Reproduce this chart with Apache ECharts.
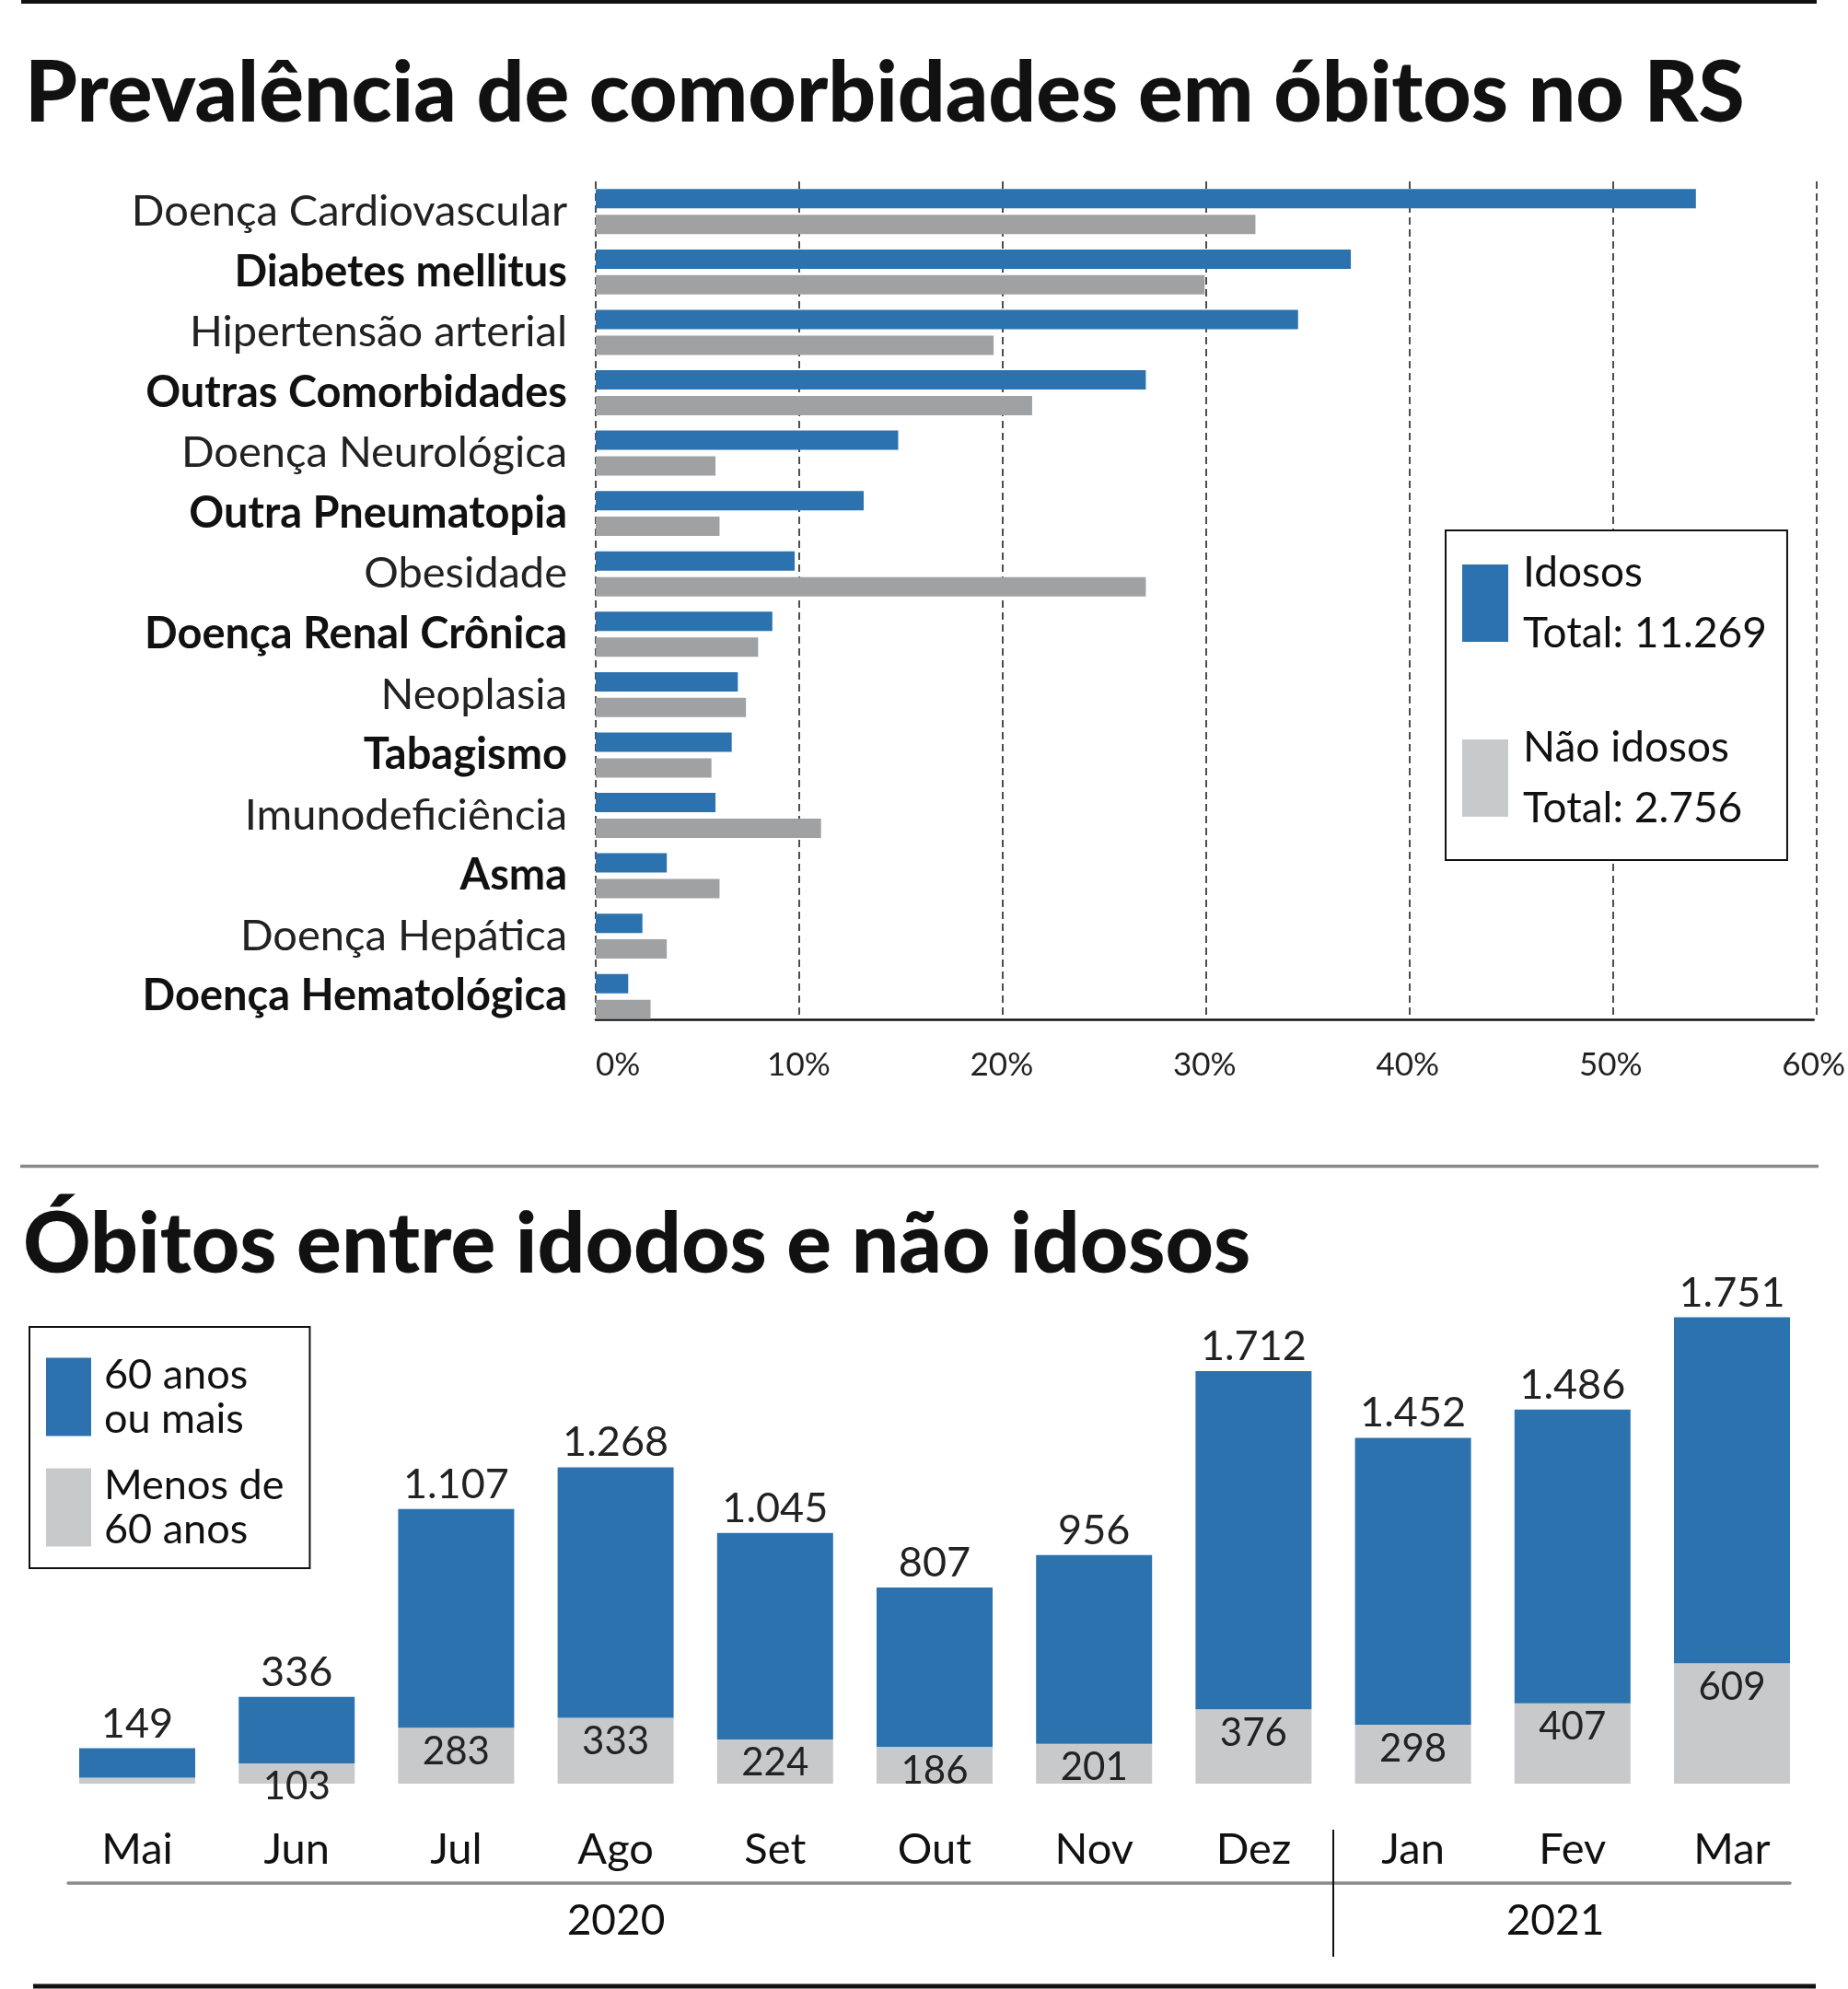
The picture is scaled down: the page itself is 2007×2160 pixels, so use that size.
<!DOCTYPE html>
<html>
<head>
<meta charset="utf-8">
<script src="https://cdn.jsdelivr.net/npm/echarts@6/dist/echarts.min.js"></script>
<style>
html,body{margin:0;padding:0;background:#fff;}
#c{width:2007px;height:2160px;}
</style>
</head>
<body>
<div id="c"></div>
<script>
// ---- Data: chart 1 ----
const comorbidades = ['Doença Cardiovascular','Diabetes mellitus','Hipertensão arterial','Outras Comorbidades','Doença Neurológica','Outra Pneumatopia','Obesidade','Doença Renal Crônica','Neoplasia','Tabagismo','Imunodeficiência','Asma','Doença Hepática','Doença Hematológica'];
const idosos =    [54.2, 37.2, 34.6, 27.1, 14.9, 13.2, 9.8, 8.7, 7.0, 6.7, 5.9, 3.5, 2.3, 1.6];
const naoIdosos = [32.5, 30.0, 19.6, 21.5, 5.9, 6.1, 27.1, 8.0, 7.4, 5.7, 11.1, 6.1, 3.5, 2.7];
const pctTicks = [0, 10, 20, 30, 40, 50, 60];
const legend1Names = ['Idosos', 'Não idosos'];
const legend1Totals = ['11.269', '2.756'];

// ---- Data: chart 2 ----
const meses = ['Mai','Jun','Jul','Ago','Set','Out','Nov','Dez','Jan','Fev','Mar'];
const anos = ['', '', '', '2020', '', '', '', '', '', '2021', ''];
const divisorAno = [8]; // boundary between Dez (2020) and Jan (2021), in month-index units
const sessentaMais = [149, 336, 1107, 1268, 1045, 807, 956, 1712, 1452, 1486, 1751];
const menos60 = [30, 103, 283, 333, 224, 186, 201, 376, 298, 407, 609];
const legend2Names = ['60 anos ou mais', 'Menos de 60 anos'];
const legend2Lines = ['60 anos\nou mais', 'Menos de\n60 anos'];

const BLUE = '#2b72ae';
const GRAY_DARK = '#a0a1a3';
const GRAY_LIGHT = '#c8c9cb';
const FONT = 'Lato';

function fmtThousands(v){
  return String(v).replace(/\B(?=(\d{3})+(?!\d))/g, '.');
}

const chart = echarts.init(document.getElementById('c'), null, {renderer:'canvas'});

const option = {
  backgroundColor: '#ffffff',
  animation: false,
  textStyle: {fontFamily: FONT},
  title: [
    {text: 'Prevalência de comorbidades em óbitos no RS', left: 22, top: 52,
     textStyle: {fontFamily: FONT, fontWeight: 900, fontSize: 91, color: '#111'}},
    {text: 'Óbitos entre idodos e não idosos', left: 20, top: 1302,
     textStyle: {fontFamily: FONT, fontWeight: 900, fontSize: 91, color: '#111'}}
  ],
  graphic: [
    {type: 'line', shape: {x1: 23, y1: 2, x2: 1973, y2: 2}, style: {stroke: '#111', lineWidth: 4}},
    {type: 'line', shape: {x1: 22, y1: 1266.5, x2: 1975, y2: 1266.5}, style: {stroke: '#888', lineWidth: 3.5}},
    {type: 'line', shape: {x1: 36, y1: 2157, x2: 1972, y2: 2157}, style: {stroke: '#111', lineWidth: 5}}
  ],
  legend: [
    {
      data: [{name: legend1Names[0]}, {name: legend1Names[1], itemStyle: {color: GRAY_LIGHT}}],
      orient: 'vertical', left: 1570, top: 576,
      itemWidth: 50, itemHeight: 84, itemGap: 58,
      padding: [13, 22, 23, 18],
      backgroundColor: '#ffffff',
      borderColor: '#111', borderWidth: 2,
      selectedMode: false, icon: 'rect',
      formatter: function(name){
        const i = legend1Names.indexOf(name);
        return name + '\nTotal: ' + legend1Totals[i];
      },
      textStyle: {fontFamily: FONT, fontSize: 46, lineHeight: 66, color: '#111', padding: [0, 0, 0, 11]}
    },
    {
      data: [{name: legend2Names[0]}, {name: legend2Names[1]}],
      orient: 'vertical', left: 32, top: 1441,
      itemWidth: 49, itemHeight: 85, itemGap: 24,
      padding: [28, 28, 18, 18],
      backgroundColor: '#ffffff',
      borderColor: '#111', borderWidth: 2,
      selectedMode: false, icon: 'rect',
      formatter: function(name){
        return legend2Lines[legend2Names.indexOf(name)];
      },
      textStyle: {fontFamily: FONT, fontSize: 45, lineHeight: 48, color: '#111', padding: [0, 0, 0, 9]}
    }
  ],
  grid: [
    {left: 647, top: 197, width: 1326, height: 918},
    {left: 647, top: 197, width: 1326, height: 910},
    {left: 62.4, top: 1422, width: 1905.2, height: 515},
    {left: 74, top: 1422, width: 1870, height: 515}
  ],
  xAxis: [
    {
      type: 'value', gridIndex: 0, position: 'bottom', min: pctTicks[0], max: pctTicks[pctTicks.length-1], interval: 10,
      offset: -8,
      axisLine: {show: true, onZero: false, lineStyle: {color: '#111', width: 2.5}},
      axisTick: {show: false},
      splitLine: {show: false},
      axisLabel: {formatter: '{value}%', fontFamily: FONT, fontSize: 35, color: '#222', margin: 32, alignMinLabel: 'left'}
    },
    {
      type: 'value', gridIndex: 1, position: 'bottom', min: pctTicks[0], max: pctTicks[pctTicks.length-1], interval: 10,
      axisLine: {show: false}, axisTick: {show: false}, axisLabel: {show: false},
      splitLine: {show: true, lineStyle: {color: '#222', width: 1.6, type: [8, 5]}}
    },
    {
      type: 'category', gridIndex: 2, position: 'bottom', data: meses,
      axisLine: {show: false}, axisTick: {show: false},
      axisLabel: {fontFamily: FONT, fontSize: 47, color: '#111', margin: 48, interval: 0}
    },
    {
      type: 'value', gridIndex: 2, position: 'bottom', min: 0, max: meses.length, offset: 50,
      axisLine: {show: false, onZero: false},
      axisTick: {show: true, length: 138, customValues: divisorAno, lineStyle: {color: '#111', width: 2}},
      axisLabel: {show: false},
      splitLine: {show: false}
    },
    {
      type: 'category', gridIndex: 3, position: 'bottom', data: anos, offset: 108,
      axisLine: {show: true, onZero: false, lineStyle: {color: '#8a8a8a', width: 3.5}},
      axisTick: {show: false},
      axisLabel: {fontFamily: FONT, fontSize: 46, color: '#111', margin: 18, interval: 0}
    }
  ],
  yAxis: [
    {
      type: 'category', gridIndex: 0, data: comorbidades, inverse: true,
      axisLine: {show: false}, axisTick: {show: false}, splitLine: {show: false},
      axisLabel: {
        margin: 31, interval: 0,
        formatter: function(v, i){ return (i % 2 === 1 ? '{b|' : '{r|') + v + '}'; },
        rich: {
          r: {fontFamily: FONT, fontSize: 47, color: '#222', fontWeight: 400},
          b: {fontFamily: FONT, fontSize: 47, color: '#111', fontWeight: 700}
        }
      }
    },
    {type: 'category', gridIndex: 1, data: comorbidades, inverse: true, show: false},
    {type: 'value', gridIndex: 2, min: 0, max: 2400, show: false},
    {type: 'value', gridIndex: 3, min: 0, max: 2400, show: false}
  ],
  series: [
    {
      name: legend1Names[0], type: 'bar', xAxisIndex: 0, yAxisIndex: 0,
      data: idosos, barWidth: 21, barGap: '33%',
      itemStyle: {color: BLUE}
    },
    {
      name: legend1Names[1], type: 'bar', xAxisIndex: 0, yAxisIndex: 0,
      data: naoIdosos, barWidth: 21, barGap: '33%',
      itemStyle: {color: GRAY_DARK}
    },
    {
      name: legend2Names[1], type: 'bar', xAxisIndex: 2, yAxisIndex: 2, stack: 'obitos',
      data: menos60.map(function(v, i){ return i === 0 ? {value: v, label: {show: false}} : v; }),
      barWidth: 126,
      itemStyle: {color: GRAY_LIGHT},
      label: {show: true, position: 'insideTop', distance: 5, fontFamily: FONT, fontSize: 42, color: '#222',
              formatter: function(p){ return fmtThousands(p.value); }}
    },
    {
      name: legend2Names[0], type: 'bar', xAxisIndex: 2, yAxisIndex: 2, stack: 'obitos',
      data: sessentaMais, barWidth: 126,
      itemStyle: {color: BLUE},
      label: {show: true, position: 'top', distance: 4, fontFamily: FONT, fontSize: 45, color: '#222',
              formatter: function(p){ return fmtThousands(p.value); }}
    }
  ]
};
chart.setOption(option);
</script>
</body>
</html>
